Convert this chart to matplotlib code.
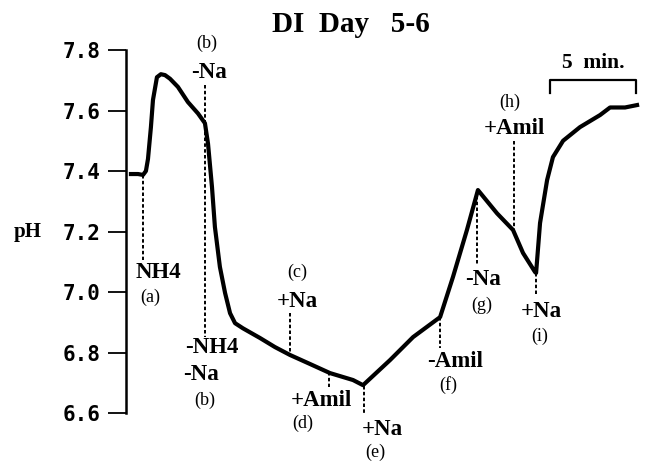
import matplotlib
matplotlib.use("Agg")
import matplotlib.pyplot as plt

# pH trace, time in minutes from the start of the record
time_min = [0.0, 0.41, 0.70, 0.87, 0.99, 1.16, 1.28, 1.51, 1.74, 1.98, 2.27, 2.73,
            3.31, 3.90, 4.30, 4.48, 4.71, 4.88, 5.17, 5.47, 5.76, 6.05, 6.51, 7.50,
            8.37, 9.24, 10.41, 11.57, 12.91, 13.49, 15.06, 16.40, 17.97, 18.72,
            19.53, 20.17, 21.28, 22.21, 22.79, 23.49, 23.55, 23.78, 24.19, 24.53,
            25.12, 26.10, 27.27, 27.85, 28.72, 29.42]
ph = [7.39, 7.39, 7.387, 7.40, 7.44, 7.545, 7.635, 7.71, 7.72, 7.717, 7.705, 7.678,
      7.628, 7.59, 7.558, 7.49, 7.347, 7.215, 7.083, 6.997, 6.93, 6.897, 6.88, 6.848,
      6.818, 6.792, 6.762, 6.732, 6.709, 6.692, 6.775, 6.851, 6.917, 7.05,
      7.205, 7.337, 7.26, 7.205, 7.129, 7.066, 7.063, 7.228, 7.37, 7.446,
      7.50, 7.545, 7.585, 7.61, 7.61, 7.618]

yticks = [6.6, 6.8, 7.0, 7.2, 7.4, 7.6, 7.8]
ytick_labels = ["6.6", "6.8", "7.0", "7.2", "7.4", "7.6", "7.8"]

# solution changes: time, line from / to (pH)
event_t = [0.70, 4.30, 9.24, 11.51, 13.55, 17.97, 20.12, 22.27, 23.55]
event_from = [7.387, 7.684, 6.930, 6.734, 6.690, 6.917, 7.337, 7.500, 7.063]
event_to = [7.106, 6.851, 6.792, 6.686, 6.593, 6.815, 7.089, 7.205, 6.990]

# (text, x, y, bold)
labels = [
    ("NH4", 1.62, 7.063, True), ("(a)", 1.12, 6.983, False),
    ("(b)", 4.42, 7.822, False), ("-Na", 4.51, 7.724, True),
    ("-NH4", 4.71, 6.818, True), ("-Na", 4.07, 6.726, True), ("(b)", 4.30, 6.643, False),
    ("(c)", 9.65, 7.066, False), ("+Na", 9.65, 6.967, True),
    ("+Amil", 11.05, 6.643, True), ("(d)", 10.0, 6.567, False),
    ("+Na", 14.59, 6.544, True), ("(e)", 14.19, 6.471, False),
    ("-Amil", 18.84, 6.769, True), ("(f)", 18.43, 6.692, False),
    ("-Na", 20.47, 7.040, True), ("(g)", 20.41, 6.957, False),
    ("(h)", 22.03, 7.628, False), ("+Amil", 22.27, 7.542, True),
    ("+Na", 23.84, 6.934, True), ("(i)", 23.78, 6.855, False),
]

fig = plt.figure(figsize=(6.46, 4.66), dpi=100)
ax = fig.add_axes([0.195, 0.1137, 0.7957, 0.779])

ax.plot(time_min, ph, color="black", lw=3.0, solid_joinstyle="round")

for t, a, b in zip(event_t, event_from, event_to):
    ax.plot([t, t], [a, b], color="black", lw=1.4, linestyle=(0, (1.8, 1.2)))

for txt, x, y, bold in labels:
    if bold:
        ax.text(x, y, txt, ha="center", va="center", fontsize=16.5,
                family="Liberation Serif", fontweight="bold")
    else:
        ax.text(x, y, txt, ha="center", va="center", fontsize=13,
                family="Liberation Serif")

# 5 min scale bar
ax.plot([24.36, 24.36, 29.36, 29.36], [7.658, 7.70, 7.70, 7.658], color="black",
        lw=1.6, clip_on=False)
ax.text(26.86, 7.758, "5  min.", ha="center", va="center", fontsize=15.5,
        family="Liberation Serif", fontweight="bold")

ax.set_xlim(-0.29, 29.59)
ax.set_ylim(6.6, 7.8)
ax.set_yticks(yticks)
ax.set_yticklabels(ytick_labels, family="DejaVu Sans Mono", fontweight="bold", fontsize=15)
ax.tick_params(axis="y", direction="out", length=13, width=1.3, pad=5)
ax.set_xticks([])
for side in ["top", "right", "bottom"]:
    ax.spines[side].set_visible(False)
ax.spines["left"].set_linewidth(1.8)

fig.text(28 / 646, 1 - 232 / 466, "pH", ha="center", va="center", fontsize=15,
         family="Liberation Serif", fontweight="bold")
fig.text(351 / 646, 1 - 25 / 466, "DI  Day   5-6", ha="center", va="center",
         fontsize=21, family="Liberation Serif", fontweight="bold")

fig.savefig("out.png", dpi=100)
